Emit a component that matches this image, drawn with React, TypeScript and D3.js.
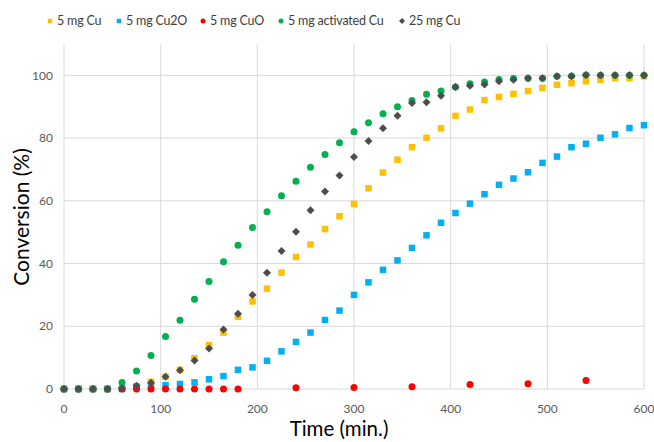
import { useEffect, useRef } from "react";
import * as d3 from "d3";

const times = [
  0, 15, 30, 45, 60, 75, 90, 105, 120, 135, 150, 165, 180, 195, 210, 225, 240,
  255, 270, 285, 300, 315, 330, 345, 360, 375, 390, 405, 420, 435, 450, 465,
  480, 495, 510, 525, 540, 555, 570, 585, 600,
];

const cu5 = [
  0, 0, 0, 0, 0.3, 0.8, 2.3, 3.9, 6.1, 9.8, 14.0, 18.0, 23.0, 27.9, 32.0, 37.1,
  42.1, 46.1, 51.0, 55.1, 59.0, 64.0, 69.0, 73.1, 77.1, 80.1, 83.1, 87.1, 89.1,
  92.1, 93.1, 94.1, 95.0, 96.0, 97.0, 97.5, 98.1, 98.6, 99.1, 99.1, 99.7,
];

const cu2o5 = [
  0, 0, 0, 0, 0, 0.7, 1.0, 1.2, 1.6, 2.1, 3.1, 4.1, 6.1, 6.9, 9.0, 12.0, 15.0,
  18.0, 22.0, 25.0, 30.0, 34.0, 38.0, 41.0, 45.0, 49.0, 53.0, 56.1, 59.1, 62.1,
  65.1, 67.1, 69.1, 72.1, 74.1, 77.1, 78.2, 80.1, 81.2, 83.2, 84.1,
];

const cuoTimes = [
  0, 15, 30, 45, 60, 75, 90, 105, 120, 135, 150, 165, 180, 240, 300, 360, 420,
  480, 540,
];
const cuo5 = [0, 0, 0, 0, 0, 0, 0, 0, 0, 0, 0, 0, 0, 0.4, 0.5, 0.7, 1.4, 1.7, 2.7];

const activated5 = [
  0, 0, 0, 0, 2.1, 5.7, 10.7, 16.7, 21.9, 28.6, 34.3, 40.6, 45.8, 51.5, 56.5,
  61.6, 66.2, 70.7, 74.8, 78.5, 82.0, 84.9, 87.8, 90.0, 92.0, 94.0, 95.0, 96.3,
  97.3, 97.9, 98.7, 99.0, 99.1, 99.1, 99.7, 99.8, 100.1, 100, 100, 100, 100,
];

const cu25 = [
  0, 0, 0, 0, 0.2, 1.0, 2.0, 3.9, 6.0, 9.1, 12.9, 19.0, 24.0, 30.0, 37.1, 44.0,
  50.1, 57.0, 63.0, 68.1, 74.0, 79.1, 83.1, 87.1, 91.2, 91.4, 93.5, 96.3, 96.7,
  97.1, 98.1, 98.6, 99.1, 99.1, 99.7, 99.7, 100.1, 100, 100, 100, 100,
];

const xTicks = [0, 100, 200, 300, 400, 500, 600];
const yTicks = [0, 20, 40, 60, 80, 100];

const series = [
  { name: "5 mg Cu", t: times, v: cu5, color: "#FFC000", shape: "square" },
  { name: "5 mg Cu2O", t: times, v: cu2o5, color: "#00B0F0", shape: "square" },
  { name: "5 mg CuO", t: cuoTimes, v: cuo5, color: "#FF0000", shape: "circle" },
  { name: "5 mg activated Cu", t: times, v: activated5, color: "#00B050", shape: "circle" },
  { name: "25 mg Cu", t: times, v: cu25, color: "#4D4D4D", shape: "diamond" },
];

const W = 654;
const H = 442;
const FONT = "Lato, 'Open Sans', sans-serif";

const App = () => {
  const svgRef = useRef<SVGSVGElement>(null);

  useEffect(() => {
    const svg = d3.select(svgRef.current);
    svg.selectAll("*").remove();

    const margin = { top: 44, right: 10, bottom: 53, left: 64 };
    const width = W - margin.left - margin.right;
    const height = H - margin.top - margin.bottom;

    const x = d3.scaleLinear().domain([0, 600]).range([0, width]);
    const y = d3.scaleLinear().domain([0, 110]).range([height, 0]);

    const g = svg
      .append("g")
      .attr("transform", `translate(${margin.left},${margin.top})`);

    // grid
    g.selectAll(".vgrid")
      .data(xTicks)
      .enter()
      .append("line")
      .attr("x1", (d) => x(d))
      .attr("x2", (d) => x(d))
      .attr("y1", 0)
      .attr("y2", height)
      .attr("stroke", "#D9D9D9")
      .attr("stroke-width", 1);

    g.selectAll(".hgrid")
      .data(yTicks)
      .enter()
      .append("line")
      .attr("x1", 0)
      .attr("x2", width)
      .attr("y1", (d) => y(d))
      .attr("y2", (d) => y(d))
      .attr("stroke", "#D9D9D9")
      .attr("stroke-width", 1);

    // tick labels
    g.selectAll(".xlab")
      .data(xTicks)
      .enter()
      .append("text")
      .attr("x", (d) => x(d))
      .attr("y", height + 24)
      .attr("text-anchor", "middle")
      .attr("font-family", FONT)
      .attr("font-size", 12)
      .attr("fill", "#595959")
      .text((d) => d);

    g.selectAll(".ylab")
      .data(yTicks)
      .enter()
      .append("text")
      .attr("x", -11)
      .attr("y", (d) => y(d))
      .attr("dy", "0.35em")
      .attr("text-anchor", "end")
      .attr("font-family", FONT)
      .attr("font-size", 12)
      .attr("fill", "#595959")
      .text((d) => d);

    // axis titles
    svg
      .append("text")
      .attr("x", 339)
      .attr("y", 436)
      .attr("text-anchor", "middle")
      .attr("font-family", FONT)
      .attr("font-size", 20.5)
      .attr("fill", "#000")
      .text("Time (min.)");

    svg
      .append("text")
      .attr("transform", `translate(29,217) rotate(-90)`)
      .attr("text-anchor", "middle")
      .attr("font-family", FONT)
      .attr("font-size", 21)
      .attr("fill", "#000")
      .text("Conversion (%)");

    const drawMarker = (sel, shape, color, size) => {
      if (shape === "square") {
        sel
          .append("rect")
          .attr("x", -size / 2)
          .attr("y", -size / 2)
          .attr("width", size)
          .attr("height", size)
          .attr("fill", color);
      } else if (shape === "circle") {
        sel.append("circle").attr("r", size / 2).attr("fill", color);
      } else {
        const s = size / 2 + 0.5;
        sel
          .append("path")
          .attr("d", `M0,${-s}L${s},0L0,${s}L${-s},0Z`)
          .attr("fill", color);
      }
    };

    // points
    series.forEach((s) => {
      const pts = s.t.map((t, i) => ({ t, v: s.v[i] }));
      g.append("g")
        .selectAll("g")
        .data(pts)
        .enter()
        .append("g")
        .attr("transform", (d) => `translate(${x(d.t)},${y(d.v)})`)
        .each(function () {
          drawMarker(d3.select(this), s.shape, s.color, s.shape === "square" ? 6.5 : 7);
        });
    });

    // legend
    const legendX = [50, 119, 203, 281, 402];
    const legend = svg.append("g");
    series.forEach((s, i) => {
      const item = legend
        .append("g")
        .attr("transform", `translate(${legendX[i]},21)`);
      const m = item.append("g");
      drawMarker(m, s.shape, s.color, s.shape === "square" ? 4.5 : 5);
      item
        .append("text")
        .attr("x", 7)
        .attr("dy", "0.35em")
        .attr("font-family", FONT)
        .attr("font-size", 12.5)
        .attr("letter-spacing", -0.2)
        .attr("fill", "#404040")
        .text(s.name);
    });
  }, []);

  return (
    <svg
      ref={svgRef}
      width={W}
      height={H}
      style={{ position: "absolute", left: 0, top: 0, background: "#fff" }}
    ></svg>
  );
};

export default App;
